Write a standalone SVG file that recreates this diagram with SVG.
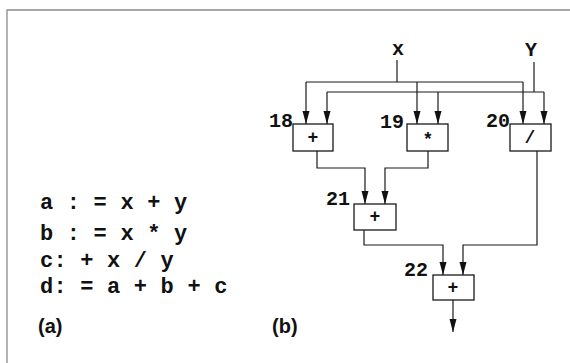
<svg xmlns="http://www.w3.org/2000/svg" width="570" height="363" viewBox="0 0 570 363">
<style>
.frame{stroke:#8a8a8a;stroke-width:1.3;fill:none}
.w{fill:none;stroke:#1a1a1a;stroke-width:1.2}
.box{fill:#fff;stroke:#1a1a1a;stroke-width:1.3}
.mono{font-family:"Liberation Mono","Courier New",monospace;font-weight:bold;fill:#111}
.code{font-size:22px;letter-spacing:0.2px}
.lbl{font-size:20px;text-anchor:end}
.op{font-size:18px;text-anchor:middle}
.var{font-size:20px;text-anchor:middle}
.cap{font-family:"Liberation Sans",Arial,sans-serif;font-weight:bold;font-size:20px;fill:#111}
</style>
<defs>
<marker id="ah" markerUnits="userSpaceOnUse" markerWidth="14" markerHeight="8" refX="13" refY="3.5" orient="auto" viewBox="0 0 14 7">
<path d="M0,0 L13,3.5 L0,7 Z" fill="#111"/>
</marker>
</defs>
<rect width="570" height="363" fill="#fff"/>
<path class="frame" d="M7,363 V10 H570"/>
<g id="code">
<text class="mono code" x="40" y="209">a : = x + y</text>
<text class="mono code" x="40" y="240">b : = x * y</text>
<text class="mono code" x="40" y="267">c: + x / y</text>
<text class="mono code" x="40" y="293">d: = a + b + c</text>
<text class="cap" x="38" y="333">(a)</text>
<text class="cap" x="272" y="333">(b)</text>
</g>
<g id="connectors">
<path class="w" d="M397,60 V82"/>
<path class="w" d="M306,82 H523"/>
<path class="w" d="M534,62 V92"/>
<path class="w" d="M327,92 H544"/>
<path class="w" d="M306,82 V124" marker-end="url(#ah)"/>
<path class="w" d="M417,82 V124" marker-end="url(#ah)"/>
<path class="w" d="M523,82 V124" marker-end="url(#ah)"/>
<path class="w" d="M327,92 V124" marker-end="url(#ah)"/>
<path class="w" d="M438,92 V124" marker-end="url(#ah)"/>
<path class="w" d="M544,92 V124" marker-end="url(#ah)"/>
<path class="w" d="M317,151 V168 H365 V204" marker-end="url(#ah)"/>
<path class="w" d="M428,151 V168 H385 V204" marker-end="url(#ah)"/>
<path class="w" d="M364,230 V245 H443 V275" marker-end="url(#ah)"/>
<path class="w" d="M537,151 V245 H463 V275" marker-end="url(#ah)"/>
<path class="w" d="M453,300 V332" marker-end="url(#ah)"/>
</g>
<g id="x"><text class="mono var" x="398" y="55">x</text></g>
<g id="y"><text class="mono var" x="531" y="56">Y</text></g>
<g id="n18">
<rect class="box" x="293" y="124" width="40" height="27"/>
<text class="mono op" x="313" y="143">+</text>
<text class="mono lbl" x="293" y="127">18</text>
</g>
<g id="n19">
<rect class="box" x="407" y="124" width="41" height="27"/>
<text class="mono op" x="428" y="145">*</text>
<text class="mono lbl" x="404" y="128">19</text>
</g>
<g id="n20">
<rect class="box" x="510" y="124" width="41" height="27"/>
<text class="mono op" x="530" y="143">/</text>
<text class="mono lbl" x="510" y="127">20</text>
</g>
<g id="n21">
<rect class="box" x="354" y="204" width="42" height="26"/>
<text class="mono op" x="375" y="222">+</text>
<text class="mono lbl" x="350" y="205">21</text>
</g>
<g id="n22">
<rect class="box" x="433" y="275" width="41" height="25"/>
<text class="mono op" x="453" y="293">+</text>
<text class="mono lbl" x="428" y="276">22</text>
</g>
</svg>
